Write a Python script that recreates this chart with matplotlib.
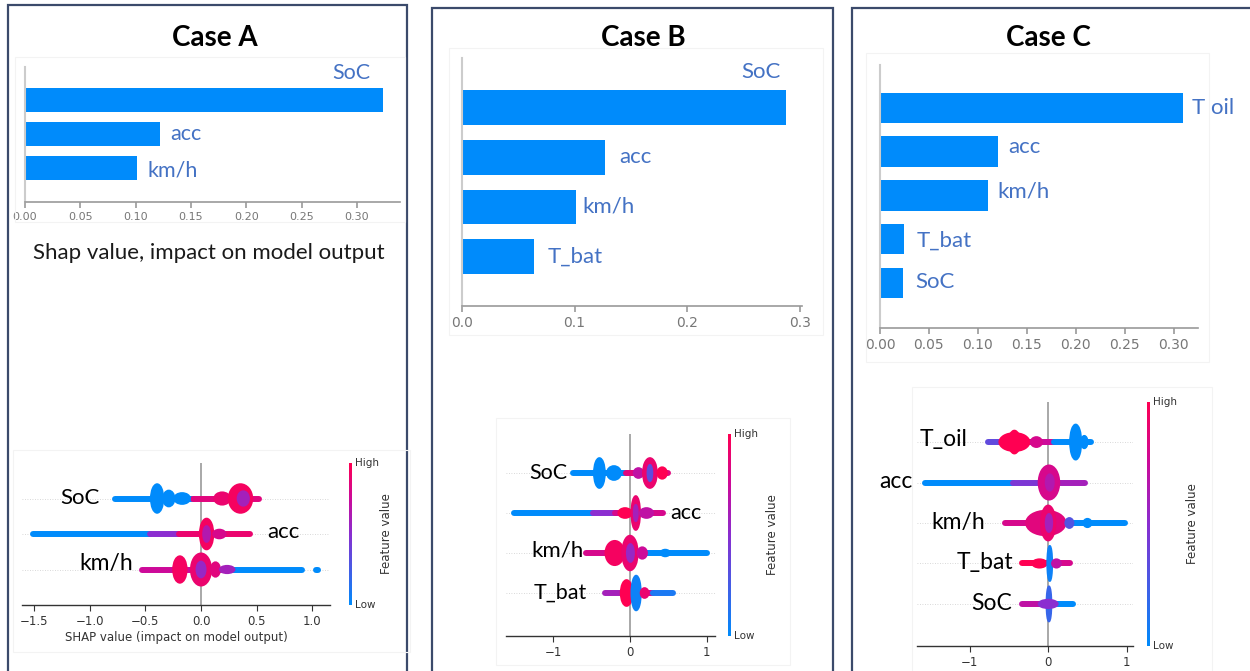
import numpy as np
import matplotlib
matplotlib.use('Agg')
import matplotlib.pyplot as plt
from matplotlib.colors import LinearSegmentedColormap
from matplotlib.patches import Ellipse, Rectangle

W, H = 1250, 671

# ---------------- mean |SHAP| bar charts ----------------
a_feat = ['km/h', 'acc', 'SoC']
a_imp = [0.101, 0.122, 0.324]
b_feat = ['T_bat', 'km/h', 'acc', 'SoC']
b_imp = [0.064, 0.101, 0.127, 0.288]
c_feat = ['SoC', 'T_bat', 'km/h', 'acc', 'T oil']
c_imp = [0.0235, 0.0246, 0.110, 0.121, 0.310]

ticks_005 = [0.00, 0.05, 0.10, 0.15, 0.20, 0.25, 0.30]
ticks_01 = [0.0, 0.1, 0.2, 0.3]

# ---------------- beeswarm rows ----------------
# each piece: (shap from, shap to, half height of the cloud in rows, feature value 0=low 1=high)
# half height 0 -> thin tail of single dots
a_sw_feat = ['km/h', 'acc', 'SoC']
a_sw_kmh = [(-0.53, 0.20, 0, 0.75), (0.20, 0.91, 0, 0.0), (1.03, 1.05, 0, 0.0),
            (-0.25, -0.13, 0.37, 0.95), (-0.09, 0.09, 0.45, 0.9), (-0.04, 0.04, 0.22, 0.55),
            (0.09, 0.17, 0.2, 0.85), (0.17, 0.30, 0.1, 0.6)]
a_sw_acc = [(-1.51, -0.46, 0, 0.0), (-0.46, -0.20, 0, 0.5), (-0.20, 0.44, 0, 0.9),
            (-0.01, 0.11, 0.43, 0.95), (0.02, 0.08, 0.22, 0.65), (0.11, 0.22, 0.12, 0.8)]
a_sw_soc = [(-0.77, -0.07, 0, 0.0), (-0.07, 0.52, 0, 0.85),
            (-0.45, -0.34, 0.4, 0.0), (-0.34, -0.24, 0.22, 0.0), (-0.24, -0.10, 0.15, 0.0),
            (0.12, 0.26, 0.17, 0.9), (0.25, 0.46, 0.4, 0.95), (0.33, 0.43, 0.2, 0.6)]

b_sw_feat = ['T_bat', 'km/h', 'acc', 'SoC']
b_sw_tbat = [(-0.33, -0.07, 0, 0.6), (0.14, 0.30, 0, 0.75), (0.30, 0.56, 0, 0.1),
             (-0.12, 0.03, 0.32, 1.0), (0.02, 0.14, 0.43, 0.05), (0.14, 0.24, 0.12, 0.9)]
b_sw_kmh = [(-0.57, 0.20, 0, 0.8), (0.20, 1.00, 0, 0.0),
            (-0.32, -0.08, 0.3, 0.95), (-0.10, 0.10, 0.43, 0.9), (-0.04, 0.05, 0.22, 0.55),
            (0.10, 0.22, 0.14, 0.75), (0.40, 0.52, 0.08, 0.0)]
b_sw_acc = [(-1.52, -0.48, 0, 0.0), (-0.48, -0.20, 0, 0.5), (-0.20, 0.43, 0, 0.8),
            (-0.15, 0.02, 0.12, 1.0), (0.02, 0.13, 0.42, 0.9), (0.05, 0.10, 0.2, 0.6),
            (0.13, 0.30, 0.12, 0.7)]
b_sw_soc = [(-0.74, -0.05, 0, 0.0), (-0.05, 0.50, 0, 0.85),
            (-0.47, -0.33, 0.37, 0.0), (-0.30, -0.12, 0.17, 0.0),
            (0.05, 0.17, 0.12, 0.7), (0.17, 0.35, 0.37, 0.9), (0.23, 0.29, 0.2, 0.35),
            (0.36, 0.48, 0.14, 1.0)]

c_sw_feat = ['SoC', 'T_bat', 'km/h', 'acc', 'T_oil']
c_sw_soc = [(-0.33, -0.03, 0, 0.7), (0.04, 0.32, 0, 0.0),
            (-0.02, 0.04, 0.43, 0.2), (-0.12, 0.12, 0.1, 0.5)]
c_sw_tbat = [(-0.33, -0.01, 0, 1.0), (0.05, 0.28, 0, 0.8),
             (-0.20, -0.02, 0.1, 1.0), (-0.01, 0.05, 0.43, 0.05), (0.05, 0.16, 0.1, 0.7)]
c_sw_kmh = [(-0.55, 0.15, 0, 0.8), (0.15, 0.98, 0, 0.0),
            (-0.28, 0.22, 0.3, 0.85), (-0.09, 0.09, 0.43, 0.9), (-0.03, 0.05, 0.22, 0.6),
            (0.22, 0.32, 0.12, 0.3), (0.45, 0.55, 0.1, 0.0)]
c_sw_acc = [(-1.57, -0.45, 0, 0.0), (-0.45, -0.10, 0, 0.45), (0.13, 0.47, 0, 0.6),
            (-0.12, 0.14, 0.42, 0.8), (-0.03, 0.07, 0.2, 0.65)]
c_sw_toil = [(-0.76, -0.60, 0, 0.35), (-0.25, 0.07, 0, 0.75), (0.07, 0.55, 0, 0.0),
             (-0.62, -0.24, 0.22, 1.0), (-0.50, -0.36, 0.28, 1.0), (-0.22, -0.08, 0.12, 0.8),
             (0.28, 0.42, 0.43, 0.0), (0.42, 0.50, 0.15, 0.0)]

shap_cmap = LinearSegmentedColormap.from_list(
    'shap_rb', [(0.0, '#008bfb'), (0.5, '#8a2ed0'), (0.75, '#cc0a9a'), (1.0, '#ff0052')])

plt.rcParams['font.family'] = ['DejaVu Sans']
CAL = ['Lato', 'DejaVu Sans']
LBLUE = '#4472c4'

fig = plt.figure(figsize=(W / 100, H / 100), dpi=100)
fig.patch.set_facecolor('white')


def px_ax(x0, y0, x1, y1):
    return fig.add_axes([x0 / W, 1 - y1 / H, (x1 - x0) / W, (y1 - y0) / H])


def ftext(x, y, s, **kw):
    return fig.text(x / W, 1 - y / H, s, **kw)


def frame(x0, y0, x1, y1, color, lw):
    fig.add_artist(Rectangle((x0 / W, 1 - y1 / H), (x1 - x0) / W, (y1 - y0) / H,
                             transform=fig.transFigure, fill=False, ec=color, lw=lw))


def bar_panel(box, vals, xlim, ylim, ticks, fmt, fs):
    ax = px_ax(*box)
    ax.barh(range(len(vals)), vals, height=0.7, color='#008bfb', zorder=2)
    ax.set_xlim(xlim)
    ax.set_ylim(ylim)
    ax.patch.set_alpha(0)
    for s in ['top', 'right']:
        ax.spines[s].set_visible(False)
    ax.spines['left'].set_color('#cccccc')
    ax.spines['left'].set_linewidth(1.5)
    ax.spines['bottom'].set_color('#999999')
    ax.spines['bottom'].set_linewidth(1.2)
    ax.set_yticks([])
    ax.set_xticks(ticks)
    ax.set_xticklabels([fmt % t for t in ticks])
    ax.tick_params(axis='x', colors='#999999', labelcolor='#777777', labelsize=fs,
                   length=4, width=1.2, pad=3)
    return ax


def bar_label(ax, name, val, row, dx, dy, ha='left', fs=16):
    ax.annotate(name, (val, row), xytext=(dx * 0.72, dy * 0.72), textcoords='offset points',
                ha=ha, va='center', color=LBLUE, fontsize=fs, family=CAL)


def swarm_panel(box, rows, xlim, ylim, ticks, fmt):
    ax = px_ax(*box)
    for i, segs in enumerate(rows):
        ax.axhline(i, color='#cccccc', lw=0.6, ls=(0, (1, 2)), zorder=0)
        for (x0, x1, h, v) in segs:
            col = shap_cmap(v)
            if h == 0:
                ax.plot([x0, x1], [i, i], color=col, lw=4.3, solid_capstyle='round', zorder=2)
            else:
                ax.add_patch(Ellipse(((x0 + x1) / 2, i), x1 - x0, 2 * h, fc=col, ec=col,
                                     lw=1.5, zorder=3))
    ax.axvline(0, color='#999999', lw=1.2, zorder=1)
    ax.set_xlim(xlim)
    ax.set_ylim(ylim)
    ax.patch.set_alpha(0)
    for s in ['top', 'right', 'left']:
        ax.spines[s].set_visible(False)
    ax.spines['bottom'].set_color('#333333')
    ax.spines['bottom'].set_linewidth(1.0)
    ax.set_yticks([])
    ax.set_xticks(ticks)
    ax.set_xticklabels([(fmt % t).replace('-', '\u2212') for t in ticks])
    ax.tick_params(axis='x', colors='#333333', labelcolor='#333333', labelsize=8.5,
                   length=4, width=0.8, pad=3)
    return ax


def colorbar(x, y0, y1, fs_t=7.5, fs_l=8.5, lab_dx=38):
    cax = px_ax(x - 1.5, y0, x + 1.5, y1)
    cax.imshow(np.linspace(0, 1, 256)[::-1, None], aspect='auto', cmap=shap_cmap)
    cax.axis('off')
    ftext(x + 5, y0, 'High', fontsize=fs_t, color='#333333', va='center')
    ftext(x + 5, y1, 'Low', fontsize=fs_t, color='#333333', va='center')
    ftext(x + lab_dx, (y0 + y1) / 2, 'Feature value', fontsize=fs_l, color='#333333',
          rotation=90, va='center', ha='center')


def swarm_label(ax, name, x, row, ha, fs):
    ax.text(x, row, name, ha=ha, va='center', fontsize=fs, family=CAL, color='black',
            clip_on=False)


# ---------------- panel frames ----------------
frame(8, 5, 407, 720, '#3b4a6b', 1.6)
frame(432, 8, 833, 720, '#3b4a6b', 1.6)
frame(852, 8, 1300, 720, '#3b4a6b', 1.6)
for bx in [(15, 57, 405, 222), (449, 48, 823, 335), (866, 53, 1209, 362),
           (13, 450, 410, 652), (496, 418, 790, 665), (912, 387, 1212, 700)]:
    frame(*bx, '#f3f3f3', 0.8)

for cx, title in [(215, 'Case A'), (643, 'Case B'), (1048, 'Case C')]:
    ftext(cx, 38, title, fontsize=20, fontweight='bold', family=CAL, ha='center', va='center')

# ---------------- Case A ----------------
ax = bar_panel((25, 67, 400, 202), a_imp, (0, 0.339), (-0.99, 2.95), ticks_005, '%.2f', 8)
bar_label(ax, a_feat[0], a_imp[0], 0, 11, -2, fs=15.5)
bar_label(ax, a_feat[1], a_imp[1], 1, 10, 0, fs=15.5)
bar_label(ax, a_feat[2], a_imp[2], 2, -13, 27, ha='right', fs=15.5)
ftext(209, 253, 'Shap value, impact on model output', fontsize=16, family=CAL,
      color='#1a1a1a', ha='center', va='center')

ax = swarm_panel((22, 463, 330, 605), [a_sw_kmh, a_sw_acc, a_sw_soc], (-1.61, 1.16), (-1, 3),
                 [-1.5, -1.0, -0.5, 0.0, 0.5, 1.0], '%.1f')
ax.set_xlabel('SHAP value (impact on model output)', fontsize=8.5, color='#333333', labelpad=2)
swarm_label(ax, a_sw_feat[2], -0.91, 2, 'right', 16)
swarm_label(ax, a_sw_feat[1], 0.60, 1.05, 'left', 16)
swarm_label(ax, a_sw_feat[0], -0.61, 0.17, 'right', 16.5)
colorbar(350, 463, 605, lab_dx=37)

# ---------------- Case B ----------------
ax = bar_panel((462, 58, 802, 306), b_imp, (0, 0.302), (-0.99, 4.0), ticks_01, '%.1f', 10)
bar_label(ax, b_feat[0], b_imp[0], 0, 14, 0)
bar_label(ax, b_feat[1], b_imp[1], 1, 7, 1)
bar_label(ax, b_feat[2], b_imp[2], 2, 14, 0)
bar_label(ax, b_feat[3], b_imp[3], 3, -6, 36, ha='right')

ax = swarm_panel((506, 434, 715, 636), [b_sw_tbat, b_sw_kmh, b_sw_acc, b_sw_soc],
                 (-1.62, 1.11), (-1.075, 3.975), [-1, 0, 1], '%d')
swarm_label(ax, b_sw_feat[3], -0.82, 3, 'right', 15.5)
swarm_label(ax, b_sw_feat[2], 0.52, 2, 'left', 15.5)
swarm_label(ax, b_sw_feat[1], -0.61, 1.07, 'right', 16)
swarm_label(ax, b_sw_feat[0], -0.56, 0, 'right', 15.5)
colorbar(729, 434, 636, lab_dx=43)

# ---------------- Case C ----------------
ax = bar_panel((880, 65, 1198, 328), c_imp, (0, 0.325), (-1.03, 4.98), ticks_005, '%.2f', 10)
bar_label(ax, c_feat[0], c_imp[0], 0, 12, 1)
bar_label(ax, c_feat[1], c_imp[1], 1, 13, -2)
bar_label(ax, c_feat[2], c_imp[2], 2, 10, 4)
bar_label(ax, c_feat[3], c_imp[3], 3, 10, 5)
bar_label(ax, c_feat[4], c_imp[4], 4, 9, 0)

ax = swarm_panel((917, 402, 1133, 646), [c_sw_soc, c_sw_tbat, c_sw_kmh, c_sw_acc, c_sw_toil],
                 (-1.67, 1.08), (-1.04, 4.99), [-1, 0, 1], '%d')
swarm_label(ax, c_sw_feat[4], -1.03, 4.07, 'right', 16.5)
swarm_label(ax, c_sw_feat[3], -1.73, 3.02, 'right', 16.5)
swarm_label(ax, c_sw_feat[2], -0.80, 2, 'right', 16.5)
swarm_label(ax, c_sw_feat[1], -0.45, 1.02, 'right', 16.5)
swarm_label(ax, c_sw_feat[0], -0.46, 0, 'right', 16.5)
colorbar(1148, 402, 646, lab_dx=44)

fig.savefig('out.png', dpi=100)
